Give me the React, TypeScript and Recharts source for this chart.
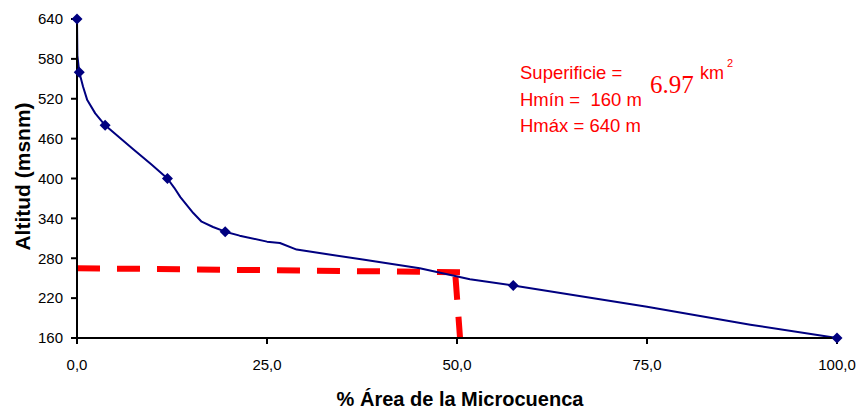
import { ComposedChart, Line, Scatter, XAxis, YAxis } from 'recharts'

// curva hipsométrica (trazo) y puntos medidos (marcadores)
const areaPct = [0, 0.05, 0.3, 0.8, 1.35, 2.4, 3.7, 7.4, 9.8, 11.9, 12.8, 13.6, 15.3, 16.4, 17.9, 19.5, 21.4, 25, 26.7, 28.9, 37.6, 45.1, 51.7, 57.4, 75, 88.6, 100]
const altitud = [640, 585, 560, 538, 518, 498, 480, 444, 421, 400, 386, 372, 348, 335, 327, 320, 314, 305, 303, 293, 278, 265, 248.5, 239, 207, 180, 160]

const puntosArea = [0, 0.3, 3.7, 11.9, 19.5, 57.4, 100]
const puntosAlt = [640, 560, 480, 400, 320, 239, 160]

// altitud media (línea roja discontinua)
const medianaX = [0, 50.5]
const medianaY = [265, 259]
const bajadaX = [49.8, 50.4]
const bajadaY = [252, 160]

const xTicks = [0, 25, 50, 75, 100]
const yTicks = [160, 220, 280, 340, 400, 460, 520, 580, 640]

const zip = (xs: number[], ys: number[]) => xs.map((x, i) => ({ x, y: ys[i] }))

const curva = zip(areaPct, altitud)
const puntos = zip(puntosArea, puntosAlt)
const mediana = zip(medianaX, medianaY)
const bajada = zip(bajadaX, bajadaY)

const FONT = '"Liberation Sans", Arial, sans-serif'
const NAVY = '#000080'
const RED = '#FF0000'

const Diamond = (props: any) => {
  const { cx, cy } = props
  const r = 5.5
  return <polygon points={`${cx},${cy - r} ${cx + r},${cy} ${cx},${cy + r} ${cx - r},${cy}`} fill={NAVY} />
}

const YTitle = (props: any) => {
  const vb = props.viewBox || { x: 0, y: 19, width: 77, height: 319 }
  const x = vb.x + 30
  const y = vb.y + vb.height / 2 - 2
  return (
    <text x={x} y={y} transform={`rotate(-90 ${x} ${y})`} textAnchor="middle" fontFamily={FONT} fontWeight="bold" fontSize={21} fill="#000">
      Altitud (msnm)
    </text>
  )
}

const XTitle = (props: any) => {
  const vb = props.viewBox || { x: 77, y: 338, width: 760, height: 74 }
  return (
    <text x={vb.x + vb.width / 2 + 3} y={vb.y + 68} textAnchor="middle" fontFamily={FONT} fontWeight="bold" fontSize={20} fill="#000">
      % Área de la Microcuenca
    </text>
  )
}

const fmt = (v: number) => v.toFixed(1).replace('.', ',')

export default function App() {
  return (
    <div style={{ position: 'absolute', left: 0, top: 0, width: 861, height: 412, background: '#fff' }}>
      <ComposedChart width={861} height={412} margin={{ top: 19, right: 24, bottom: 0, left: 0 }}>
        <XAxis
          type="number"
          dataKey="x"
          domain={[0, 100]}
          ticks={xTicks}
          tickFormatter={fmt}
          interval={0}
          height={74}
          tickSize={6}
          tickMargin={15}
          axisLine={{ stroke: '#000', strokeWidth: 2 }}
          tickLine={{ stroke: '#000', strokeWidth: 2 }}
          tick={{ fill: '#000', fontSize: 15, fontFamily: FONT }}
          label={{ content: <XTitle /> }}
        />
        <YAxis
          type="number"
          dataKey="y"
          domain={[160, 640]}
          ticks={yTicks}
          interval={0}
          width={77}
          tickSize={6}
          tickMargin={8}
          axisLine={{ stroke: '#000', strokeWidth: 2 }}
          tickLine={{ stroke: '#000', strokeWidth: 2 }}
          tick={{ fill: '#000', fontSize: 15, fontFamily: FONT }}
          label={{ content: <YTitle /> }}
        />
        <Line data={mediana} dataKey="y" type="linear" stroke={RED} strokeWidth={6} strokeDasharray="23 17" strokeLinecap="butt" dot={false} activeDot={false} isAnimationActive={false} />
        <Line data={bajada} dataKey="y" type="linear" stroke={RED} strokeWidth={6} strokeDasharray="23 17" strokeLinecap="butt" dot={false} activeDot={false} isAnimationActive={false} />
        <Line data={curva} dataKey="y" type="linear" stroke={NAVY} strokeWidth={2} strokeLinejoin="round" dot={false} activeDot={false} isAnimationActive={false} />
        <Scatter data={puntos} dataKey="y" fill={NAVY} shape={<Diamond />} isAnimationActive={false} />
      </ComposedChart>
      <svg width={861} height={412} style={{ position: 'absolute', left: 0, top: 0, pointerEvents: 'none' }}>
        <g fill={RED} fontFamily={FONT}>
          <text x={520} y={79} fontSize={18.5}>Superificie =</text>
          <text x={650} y={93} fontSize={25} fontFamily='"Liberation Serif", "Times New Roman", serif'>6.97</text>
          <text x={700} y={79} fontSize={18}>km</text>
          <text x={727} y={67} fontSize={11}>2</text>
          <text x={520} y={106} fontSize={18.5} style={{ whiteSpace: 'pre' }}>Hmín =  160 m</text>
          <text x={520} y={132} fontSize={18.5}>Hmáx = 640 m</text>
        </g>
      </svg>
    </div>
  )
}
